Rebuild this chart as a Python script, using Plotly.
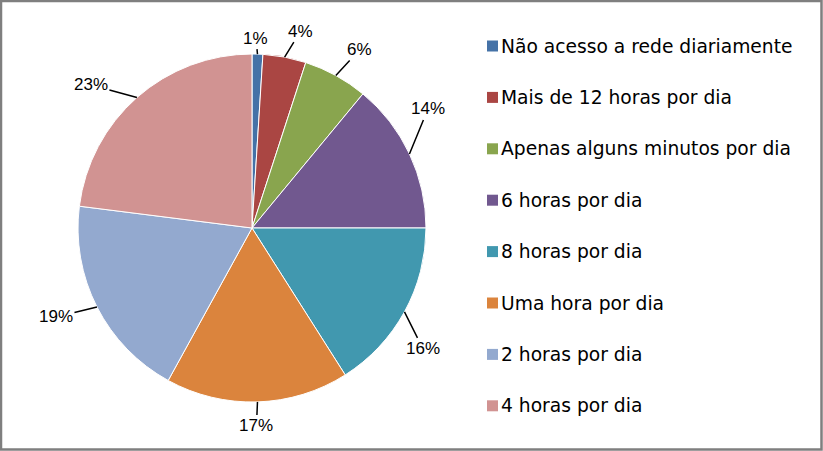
import math
import plotly.graph_objects as go

categories = ["Não acesso a rede diariamente", "Mais de 12 horas por dia",
              "Apenas alguns minutos por dia", "6 horas por dia", "8 horas por dia",
              "Uma hora por dia", "2 horas por dia", "4 horas por dia"]
values = [1, 4, 6, 14, 16, 17, 19, 23]
colors = ["#4572A7", "#AA4643", "#89A54E", "#71588F", "#4198AF",
          "#DB843D", "#93A9CF", "#D19392"]
# label placement (pixel offsets from the slice's outer mid-point)
label_offsets = [(-1.5, -16), (16, -26), (24, -26), (18.5, -45),
                 (18.5, 37), (-1, 24), (-41, 10), (-46, -12.5)]

W, H = 823, 451
cx, cy, r = 252, 228, 174  # pie centre and radius in pixels

fig = go.Figure()
fig.add_trace(go.Pie(
    labels=categories, values=values, sort=False, direction="clockwise",
    rotation=0, marker=dict(colors=colors, line=dict(color="white", width=1)),
    textinfo="none", hoverinfo="label+percent", showlegend=False,
    domain=dict(x=[(cx - r) / W, (cx + r) / W], y=[1 - (cy + r) / H, 1 - (cy - r) / H]),
))

total = sum(values)
cum = 0
annotations = []
for v, (dx, dy) in zip(values, label_offsets):
    mid = (cum + v / 2) / total * 2 * math.pi
    cum += v
    s, c = math.sin(mid), math.cos(mid)
    ex, ey = cx + r * s, cy - r * c
    annotations.append(dict(
        x=ex / W, y=1 - ey / H, xref="paper", yref="paper",
        ax=dx, ay=dy, axref="pixel", ayref="pixel",
        text=f"{round(v / total * 100)}%", showarrow=True, arrowhead=0,
        arrowwidth=1.5, arrowcolor="black", standoff=0, startstandoff=0,
        font=dict(family="Liberation Sans, Arial, sans-serif", size=17, color="black"),
    ))

# manual legend
leg_top, leg_step = 46, 51.4
shapes = []
for i, (cat, col) in enumerate(zip(categories, colors)):
    y = leg_top + i * leg_step
    shapes.append(dict(type="rect", xref="paper", yref="paper",
                       x0=487 / W, x1=498 / W, y0=1 - (y + 5.5) / H, y1=1 - (y - 5.5) / H,
                       fillcolor=col, line=dict(width=0)))
    annotations.append(dict(
        x=499 / W, y=1 - y / H, xref="paper", yref="paper", xanchor="left", yanchor="middle",
        text=cat, showarrow=False,
        font=dict(family="DejaVu Sans, sans-serif", size=18.7, color="black"),
    ))

shapes.append(dict(type="rect", xref="paper", yref="paper",
                   x0=1 / W, x1=1 - 1.5 / W, y0=1.5 / H, y1=1 - 1 / H,
                   line=dict(color="#7f7f7f", width=2.5), fillcolor="rgba(0,0,0,0)"))

fig.update_layout(
    width=W, height=H, margin=dict(l=0, r=0, t=0, b=0),
    paper_bgcolor="white", plot_bgcolor="white",
    annotations=annotations, shapes=shapes, showlegend=False,
)
fig.write_html("out.html")
